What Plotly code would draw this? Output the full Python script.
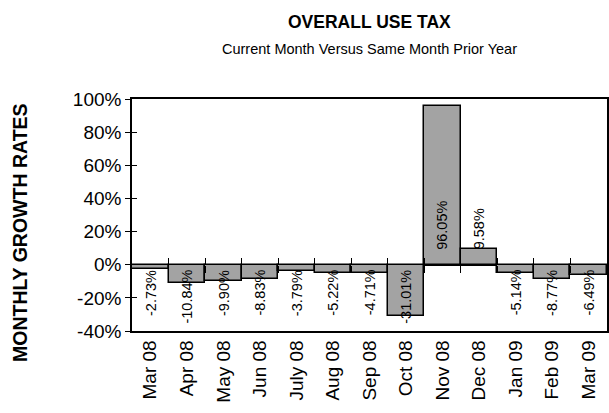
import plotly.graph_objects as go

months = ["Mar 08", "Apr 08", "May 08", "Jun 08", "July 08", "Aug 08", "Sep 08",
          "Oct 08", "Nov 08", "Dec 08", "Jan 09", "Feb 09", "Mar 09"]
growth = [-2.73, -10.84, -9.90, -8.83, -3.79, -5.22, -4.71,
          -31.01, 96.05, 9.58, -5.14, -8.77, -6.49]
labels = [f"{v:.2f}%" for v in growth]
y_ticks = [-40, -20, 0, 20, 40, 60, 80, 100]
y_ticktext = [f"{t}%" for t in y_ticks]

ymin, ymax = -40, 100
font_family = "Liberation Sans, Arial, sans-serif"

fig = go.Figure()
fig.add_trace(go.Bar(
    x=months, y=growth,
    marker=dict(color="#a3a3a3", line=dict(color="black", width=1.5)),
    hoverinfo="skip",
))
# empty helper traces so the overlay tick axes get drawn
for xa, ya in [("x2", "y"), ("x3", "y"), ("x", "y2")]:
    fig.add_trace(go.Scatter(x=[None], y=[None], xaxis=xa, yaxis=ya, mode="markers",
                             hoverinfo="skip", showlegend=False))

annotations = []
for m, v, lab in zip(months, growth, labels):
    if v < 0:
        annotations.append(dict(x=m, y=0, text=lab, textangle=-90, showarrow=False,
                                xanchor="center", yanchor="top", yshift=-3,
                                font=dict(size=14.5, color="black", family=font_family)))
    else:
        annotations.append(dict(x=m, y=0, text=lab, textangle=-90, showarrow=False,
                                xanchor="center", yanchor="bottom", yshift=13,
                                font=dict(size=14.5, color="black", family=font_family)))

annotations.append(dict(text="<b>OVERALL USE TAX</b>", xref="paper", yref="paper",
                        x=0.5, y=1, yshift=77, xanchor="center", yanchor="middle",
                        showarrow=False, font=dict(size=17.5, color="black", family=font_family)))
annotations.append(dict(text="Current Month Versus Same Month Prior Year", xref="paper", yref="paper",
                        x=0.5, y=1, yshift=50, xanchor="center", yanchor="middle",
                        showarrow=False, font=dict(size=14.5, color="black", family=font_family)))
annotations.append(dict(text="<b>MONTHLY GROWTH RATES</b>", xref="paper", yref="paper",
                        x=0, xshift=-112, y=0.5, yshift=-18, textangle=-90,
                        xanchor="center", yanchor="middle",
                        showarrow=False, font=dict(size=19.5, color="black", family=font_family)))

zero_pos = (0 - ymin) / (ymax - ymin)
n = len(months)
bounds = [i + 0.5 for i in range(n - 1)]

fig.update_layout(
    width=609, height=413,
    margin=dict(l=132, r=2, t=99, b=82, autoexpand=False),
    paper_bgcolor="white", plot_bgcolor="white",
    bargap=0,
    showlegend=False,
    annotations=annotations,
    font=dict(family=font_family, color="black"),
    xaxis=dict(
        type="category", range=[-0.5, n - 0.5],
        tickangle=-90, tickfont=dict(size=19, color="black"),
        showline=True, linecolor="black", linewidth=1.5, mirror=True,
        ticks="", showgrid=False, zeroline=False, automargin=False,
    ),
    xaxis2=dict(
        overlaying="x", anchor="free", position=zero_pos, side="bottom",
        range=[-0.5, n - 0.5], tickvals=bounds, showticklabels=False,
        ticks="outside", ticklen=7, tickwidth=1, tickcolor="black",
        showline=False, showgrid=False, zeroline=False, layer="above traces",
    ),
    xaxis3=dict(
        overlaying="x", anchor="free", position=zero_pos, side="bottom",
        range=[-0.5, n - 0.5], tickvals=bounds, showticklabels=False,
        ticks="inside", ticklen=7, tickwidth=1, tickcolor="black",
        showline=False, showgrid=False, zeroline=False, layer="above traces",
    ),
    yaxis=dict(
        range=[ymin, ymax], tickvals=y_ticks, ticktext=y_ticktext,
        tickfont=dict(size=19, color="black"),
        ticks="outside", ticklen=5, tickcolor="black", tickwidth=1,
        showline=True, linecolor="black", linewidth=1.5, mirror=True,
        showgrid=False, zeroline=True, zerolinecolor="black", zerolinewidth=1.5,
        automargin=False, layer="above traces",
    ),
    yaxis2=dict(
        overlaying="y", anchor="x", side="left",
        range=[ymin, ymax], tickvals=y_ticks, showticklabels=False,
        ticks="inside", ticklen=5, tickcolor="black", tickwidth=1,
        showline=False, showgrid=False, zeroline=False,
    ),
)

fig.write_html("out.html", config={"displayModeBar": False},
               post_script="document.body.style.margin='0';document.body.style.overflow='hidden';")
